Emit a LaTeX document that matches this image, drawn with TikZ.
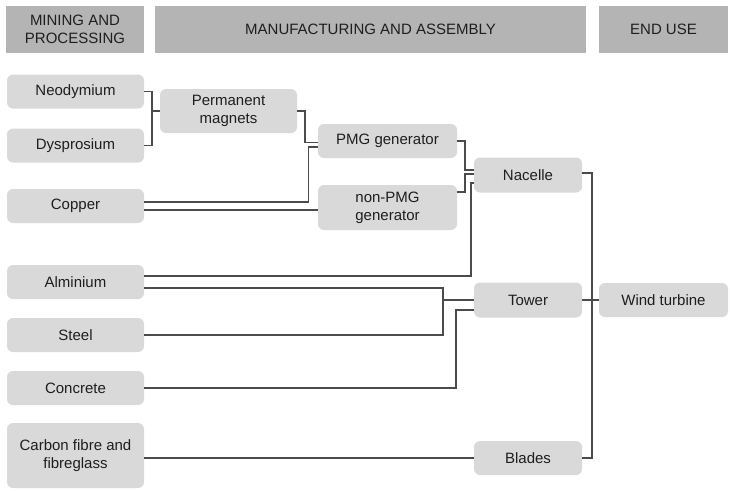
\documentclass[tikz,border=0pt]{standalone}
\usepackage{fontspec}
\setmainfont{Liberation Sans}
\usetikzlibrary{calc}
\definecolor{headgray}{RGB}{180,180,180}
\definecolor{boxgray}{RGB}{217,217,217}
\definecolor{linegray}{RGB}{75,75,75}
\definecolor{textgray}{RGB}{30,30,30}

\begin{document}
\begin{tikzpicture}[x=1pt, y=-1pt, every node/.style={outer sep=0pt, inner sep=0pt, align=center, text=textgray, font=\fontsize{15}{18}\selectfont},
    stage/.style={fill=headgray, minimum height=47pt},
    item/.style={fill=boxgray, rounded corners=6pt, minimum height=34pt},
    link/.style={draw=linegray, line width=1.5pt}]
        \useasboundingbox (0,0) rectangle (730,490);
        % stage headers
        \node (h1) [stage, minimum width=138pt] at (75,29.5) {MINING AND\\PROCESSING};
        \node (h2) [stage, minimum width=431pt] at (370.5,29.5) {MANUFACTURING AND ASSEMBLY};
        \node (h3) [stage, minimum width=129pt] at (663.5,29.5) {END USE};
        % raw materials
        \node (neo) [item, minimum width=137pt] at (75.5,91.5) {Neodymium};
        \node (dys) [item, minimum width=137pt] at (75.5,145.5) {Dysprosium};
        \node (cu) [item, minimum width=137pt] at (75.5,206) {Copper};
        \node (alm) [item, minimum width=137pt] at (75.5,282) {Alminium};
        \node (stl) [item, minimum width=137pt] at (75.5,335) {Steel};
        \node (con) [item, minimum width=137pt] at (75.5,388) {Concrete};
        \node (cf) [item, minimum width=137pt, minimum height=65pt] at (75.5,455.5) {Carbon fibre and\\fibreglass};
        % components
        \node (pm) [item, minimum width=137pt, minimum height=44pt] at (228.5,111) {Permanent\\magnets};
        \node (pmg) [item, minimum width=139pt] at (387.5,141) {PMG generator};
        \node (npmg) [item, minimum width=139pt, minimum height=45pt] at (387.5,207.5) {non-PMG\\generator};
        \node (nac) [item, minimum width=108pt, minimum height=35pt] at (528,175) {Nacelle};
        \node (tow) [item, minimum width=108pt, minimum height=35pt] at (528,300) {Tower};
        \node (bld) [item, minimum width=108pt] at (528,458) {Blades};
        \node (wt) [item, minimum width=129pt] at (663.5,300) {Wind turbine};
        % connectors
        \draw [link] (neo.east) -- ++(8,0) |- (dys.east);
        \draw [link] (pm.west) -- ++(-8,0);
        \draw [link] (pm.east) -| ([xshift=-13,yshift=-1.5]pmg.west) -- ([yshift=-1.5]pmg.west);
        \draw [link] ([yshift=4]cu.east) -| ([xshift=-9.5,yshift=-6]pmg.west) -- ([yshift=-6]pmg.west);
        \draw [link] ([yshift=-4]cu.east) -- ([yshift=-4]cu.east -| npmg.west);
        \draw [link] (pmg.east) -| ([xshift=-9,yshift=5]nac.west) -- ([yshift=5]nac.west);
        \draw [link] ([yshift=15.5]npmg.east) -| ([xshift=-9,yshift=1]nac.west) -- ([yshift=1]nac.west);
        \draw [link] ([yshift=6]alm.east) -| ([xshift=-3,yshift=-8]nac.west) -- ([yshift=-8]nac.west);
        \coordinate (tj) at ([xshift=-31]tow.west);
        \draw [link] ([yshift=-6]alm.east) -| (tj |- stl.east) -- (stl.east);
        \draw [link] (tj) -- (tow.west);
        \draw [link] (con.east) -| ([xshift=-18,yshift=-10]tow.west) -- ([yshift=-10]tow.west);
        \draw [link] (bld.west -| cf.east) -- (bld.west);
        \draw [link] ([yshift=2]nac.east) -- ++(10,0) |- (bld.east);
        \draw [link] (tow.east) -- (wt.west);
    \end{tikzpicture}
\end{document}
